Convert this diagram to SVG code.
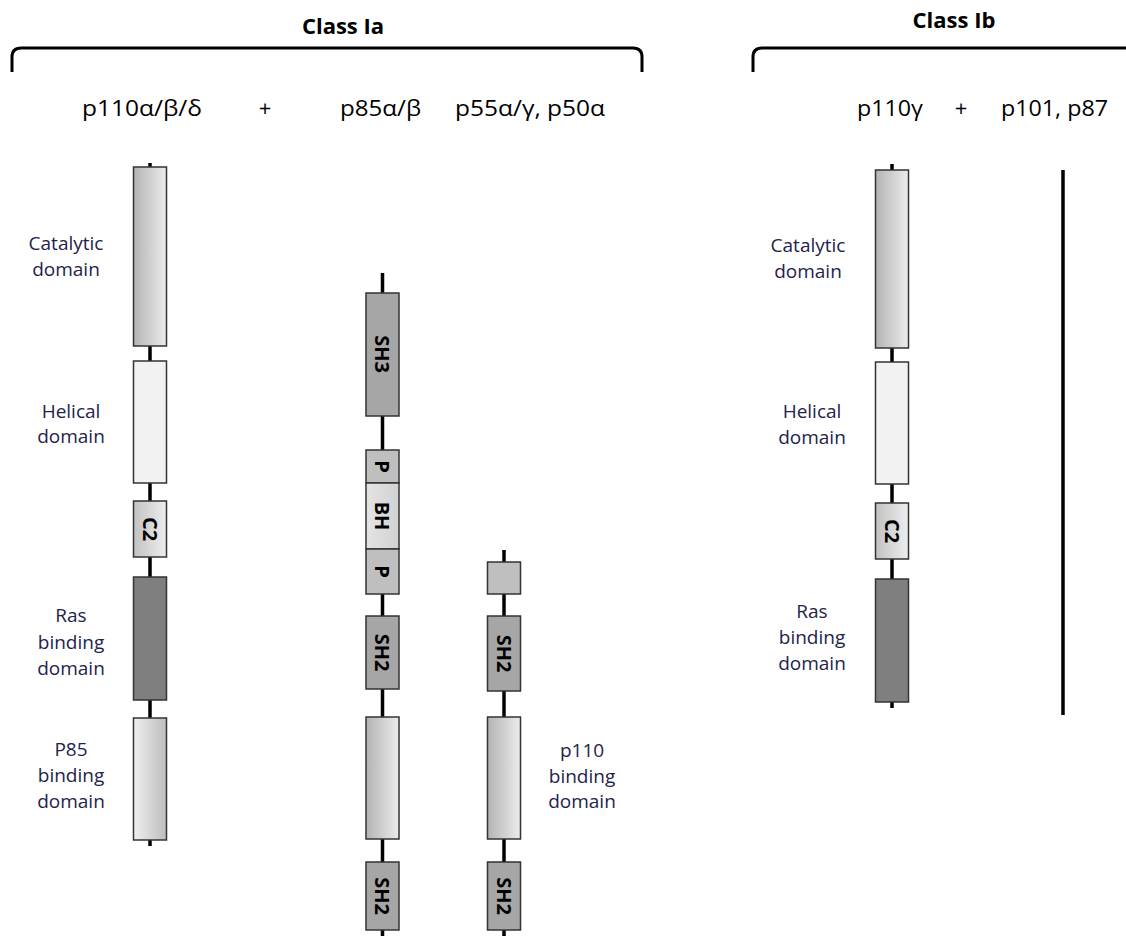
<svg xmlns="http://www.w3.org/2000/svg" width="1126" height="936" viewBox="0 0 1126 936">
<defs>
<linearGradient id="gDL" x1="0" y1="0" x2="1" y2="0"><stop offset="0" stop-color="#b3b3b3"/><stop offset="1" stop-color="#ececec"/></linearGradient>
<linearGradient id="gLD" x1="0" y1="0" x2="1" y2="0"><stop offset="0" stop-color="#f0f0f0"/><stop offset="1" stop-color="#bcbcbc"/></linearGradient>
<linearGradient id="gC2" x1="0" y1="0" x2="1" y2="0"><stop offset="0" stop-color="#c2c2c2"/><stop offset="1" stop-color="#eeeeee"/></linearGradient>
<linearGradient id="gBH" x1="0" y1="0" x2="1" y2="0"><stop offset="0" stop-color="#e4e4e4"/><stop offset="1" stop-color="#d2d2d2"/></linearGradient>
<style>
.box{stroke:#333;stroke-width:1.5}
.cat{fill:url(#gDL)}
.hel{fill:#f2f2f2}
.c2{fill:url(#gC2)}
.ras{fill:#7f7f7f}
.pb{fill:url(#gLD)}
.sh{fill:#a6a6a6}
.p{fill:#bfbfbf}
.bh{fill:url(#gBH)}
.conn{stroke:#000;stroke-width:3.5;fill:none}
.brk{stroke:#000;stroke-width:3;fill:none}
.hdr{font-family:"Open Sans","Liberation Sans",sans-serif;font-weight:bold;font-size:22px;fill:#000;text-anchor:middle}
.sub{font-family:"Open Sans","Liberation Sans",sans-serif;font-size:22px;fill:#000}
.lbl{font-family:"Open Sans","Liberation Sans",sans-serif;font-size:19px;fill:#23234a;text-anchor:middle}
.in{font-family:"Open Sans","Liberation Sans",sans-serif;font-weight:bold;font-size:20px;fill:#000;text-anchor:middle;dominant-baseline:central}
</style>
</defs>
<rect width="1126" height="936" fill="#fff"/>

<g id="headers">
<text class="hdr" x="343" y="34">Class Ia</text>
<text class="hdr" x="954" y="28">Class Ib</text>
<path class="brk" d="M12,72 V57 Q12,48 21,48 H633 Q642,48 642,57 V72"/>
<path class="brk" d="M753,72 V57 Q753,48 762,48 H1130"/>
<text class="sub" x="82" y="116" textLength="120" lengthAdjust="spacingAndGlyphs">p110α/β/δ</text>
<text class="sub" x="265" y="116" text-anchor="middle">+</text>
<text class="sub" x="340" y="116" textLength="81" lengthAdjust="spacingAndGlyphs">p85α/β</text>
<text class="sub" x="455" y="116" textLength="150" lengthAdjust="spacingAndGlyphs">p55α/γ, p50α</text>
<text class="sub" x="857" y="116" textLength="66" lengthAdjust="spacingAndGlyphs">p110γ</text>
<text class="sub" x="961" y="116" text-anchor="middle">+</text>
<text class="sub" x="1001" y="116" textLength="107" lengthAdjust="spacingAndGlyphs">p101, p87</text>
</g>

<g id="connectors">
<line class="conn" x1="150" y1="163" x2="150" y2="846"/>
<line class="conn" x1="382.5" y1="273" x2="382.5" y2="936"/>
<line class="conn" x1="504" y1="550" x2="504" y2="936"/>
<line class="conn" x1="892" y1="164" x2="892" y2="708"/>
<line class="conn" x1="1063" y1="170" x2="1063" y2="715"/>
</g>

<g id="p110-catalytic"><rect class="box cat" x="133.5" y="167" width="33" height="179"/><text class="lbl" x="66" y="250">Catalytic</text><text class="lbl" x="66" y="276">domain</text></g>
<g id="p110-helical"><rect class="box hel" x="133.5" y="361" width="33" height="122"/><text class="lbl" x="71" y="418">Helical</text><text class="lbl" x="71" y="443">domain</text></g>
<g id="p110-c2"><rect class="box c2" x="133.5" y="501" width="33" height="56"/><text class="in" transform="translate(150,529) rotate(90)">C2</text></g>
<g id="p110-ras"><rect class="box ras" x="133.5" y="577" width="33" height="123"/><text class="lbl" x="71" y="622">Ras</text><text class="lbl" x="71" y="649">binding</text><text class="lbl" x="71" y="675">domain</text></g>
<g id="p110-p85bd"><rect class="box pb" x="133.5" y="718" width="33" height="122"/><text class="lbl" x="71" y="756">P85</text><text class="lbl" x="71" y="782">binding</text><text class="lbl" x="71" y="808">domain</text></g>

<g id="p85-sh3"><rect class="box sh" x="366" y="293" width="33" height="123"/><text class="in" transform="translate(382.5,354) rotate(90)">SH3</text></g>
<g id="p85-p1"><rect class="box p" x="366" y="450" width="33" height="33"/><text class="in" transform="translate(382.5,466.5) rotate(90)">P</text></g>
<g id="p85-bh"><rect class="box bh" x="366" y="483" width="33" height="66"/><text class="in" transform="translate(382.5,516) rotate(90)">BH</text></g>
<g id="p85-p2"><rect class="box p" x="366" y="549" width="33" height="45"/><text class="in" transform="translate(382.5,571.5) rotate(90)">P</text></g>
<g id="p85-sh2a"><rect class="box sh" x="366" y="616" width="33" height="73"/><text class="in" transform="translate(382.5,652.5) rotate(90)">SH2</text></g>
<g id="p85-p110bd"><rect class="box cat" x="366" y="717" width="33" height="122"/></g>
<g id="p85-sh2b"><rect class="box sh" x="366" y="862" width="33" height="68"/><text class="in" transform="translate(382.5,896) rotate(90)">SH2</text></g>

<g id="p55-nterm"><rect class="box p" x="487.5" y="562" width="33" height="32"/></g>
<g id="p55-sh2a"><rect class="box sh" x="487.5" y="616" width="33" height="75"/><text class="in" transform="translate(504,653.5) rotate(90)">SH2</text></g>
<g id="p55-p110bd"><rect class="box cat" x="487.5" y="717" width="33" height="122"/><text class="lbl" x="582" y="757">p110</text><text class="lbl" x="582" y="783">binding</text><text class="lbl" x="582" y="808">domain</text></g>
<g id="p55-sh2b"><rect class="box sh" x="487.5" y="862" width="33" height="68"/><text class="in" transform="translate(504,896) rotate(90)">SH2</text></g>

<g id="p110g-catalytic"><rect class="box cat" x="875.5" y="170" width="33" height="178"/><text class="lbl" x="808" y="252">Catalytic</text><text class="lbl" x="808" y="278">domain</text></g>
<g id="p110g-helical"><rect class="box hel" x="875.5" y="362" width="33" height="122"/><text class="lbl" x="812" y="418">Helical</text><text class="lbl" x="812" y="444">domain</text></g>
<g id="p110g-c2"><rect class="box c2" x="875.5" y="503" width="33" height="56"/><text class="in" transform="translate(892,531) rotate(90)">C2</text></g>
<g id="p110g-ras"><rect class="box ras" x="875.5" y="579" width="33" height="123"/><text class="lbl" x="812" y="618">Ras</text><text class="lbl" x="812" y="644">binding</text><text class="lbl" x="812" y="670">domain</text></g>
</svg>
